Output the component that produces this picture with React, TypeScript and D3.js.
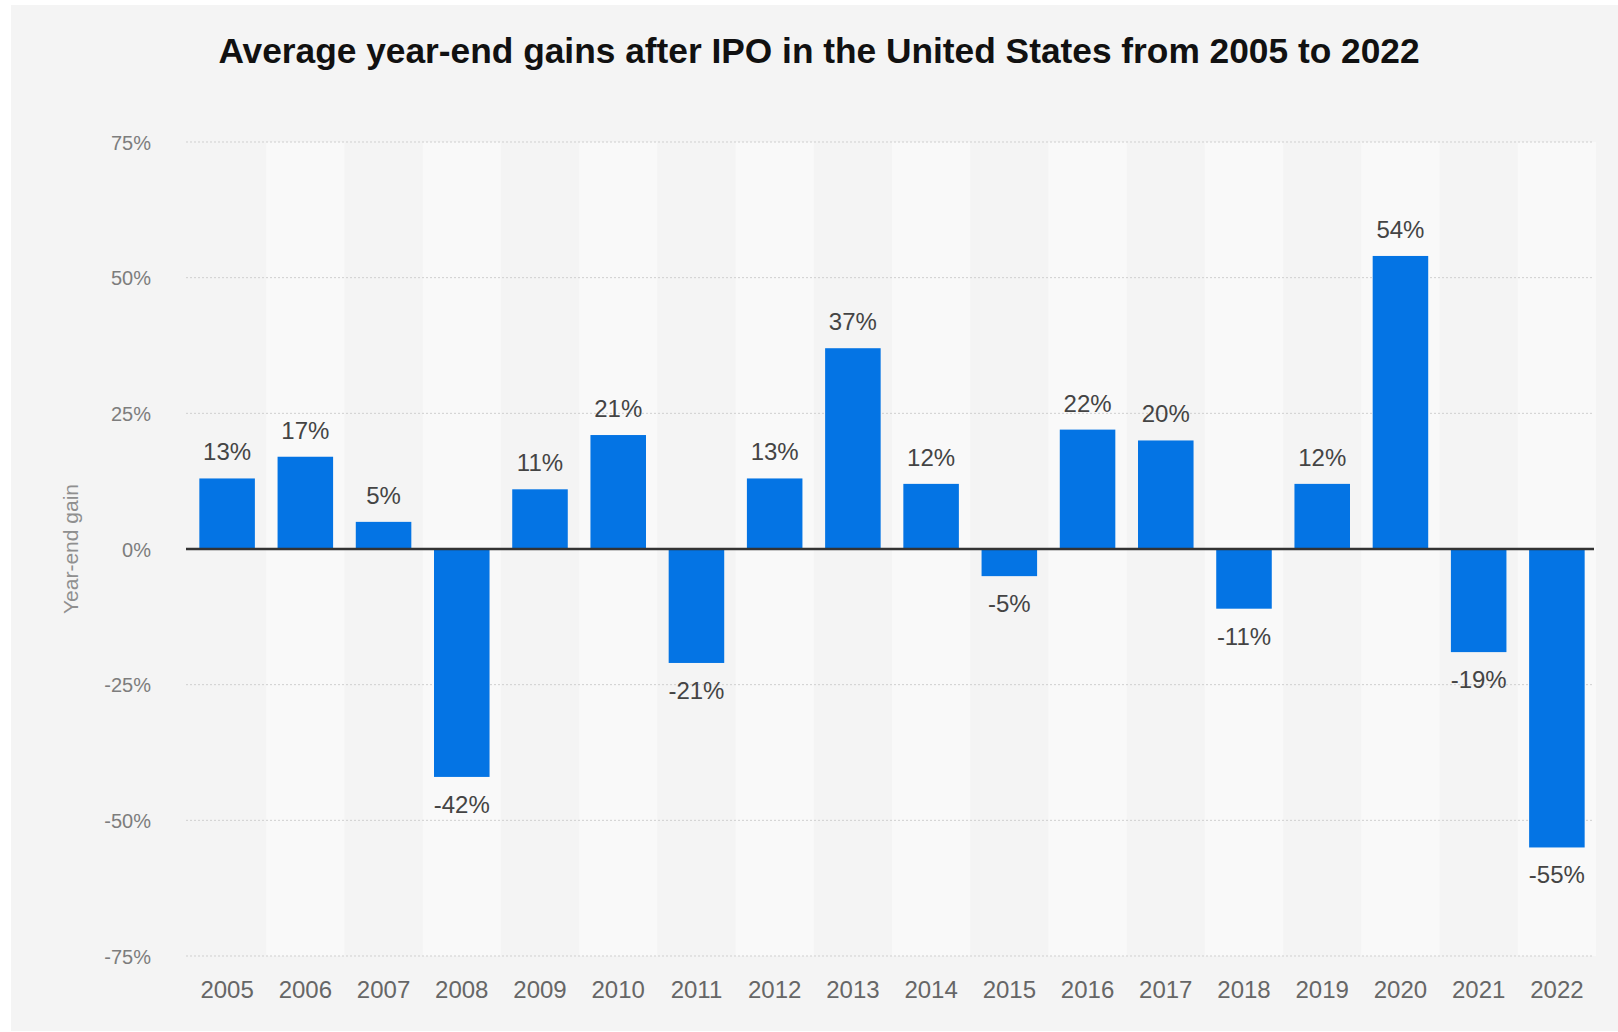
import * as d3 from "d3";
import React from "react";

const years = [
  "2005", "2006", "2007", "2008", "2009", "2010", "2011", "2012", "2013",
  "2014", "2015", "2016", "2017", "2018", "2019", "2020", "2021", "2022",
];
const gains = [13, 17, 5, -42, 11, 21, -21, 13, 37, 12, -5, 22, 20, -11, 12, 54, -19, -55];
const yTicks = [75, 50, 25, 0, -25, -50, -75];

const title = "Average year-end gains after IPO in the United States from 2005 to 2022";
const yTitle = "Year-end gain";

export default function App() {
  const width = 1618;
  const height = 1032;
  const plot = { left: 188, right: 1596, top: 142, bottom: 956 };
  const font = "'Liberation Sans', Arial, Helvetica, sans-serif";

  const x = d3.scaleBand().domain(years).range([plot.left, plot.right]).padding(0);
  const y = d3.scaleLinear().domain([-75, 75]).range([plot.bottom, plot.top]);
  const barW = x.bandwidth() * 0.71;

  return (
    <svg
      width={width}
      height={height}
      viewBox={`0 0 ${width} ${height}`}
      style={{ position: "absolute", left: 0, top: 0, background: "#ffffff" }}
    >
      <rect x={11} y={5} width={width - 11} height={1026} fill="#f4f4f4" />

      {/* alternating column stripes */}
      {years.map((yr, i) =>
        i % 2 === 1 ? (
          <rect
            key={"s" + yr}
            x={x(yr)}
            y={y(75)}
            width={x.bandwidth()}
            height={y(-75) - y(75)}
            fill="#f9f9f9"
          />
        ) : null
      )}

      {/* grid */}
      {yTicks
        .filter((t) => t !== 0)
        .map((t) => (
          <line
            key={"g" + t}
            x1={plot.left - 2}
            x2={plot.right - 2}
            y1={y(t)}
            y2={y(t)}
            stroke="#cfcfcf"
            strokeWidth={1}
            strokeDasharray="2,2"
          />
        ))}

      {/* y tick labels */}
      {yTicks.map((t) => (
        <text
          key={"yt" + t}
          x={151}
          y={y(t) + 7.5}
          textAnchor="end"
          fontFamily={font}
          fontSize={20}
          fill="#7d7d7d"
        >
          {t + "%"}
        </text>
      ))}

      <text
        transform={`translate(78,${(y(75) + y(-75)) / 2}) rotate(-90)`}
        textAnchor="middle"
        fontFamily={font}
        fontSize={21}
        fill="#8f8f8f"
      >
        {yTitle}
      </text>

      {/* bars */}
      {years.map((yr, i) => {
        const v = gains[i];
        const cx = (x(yr) ?? 0) + x.bandwidth() / 2;
        return (
          <rect
            key={"b" + yr}
            x={cx - barW / 2}
            y={v >= 0 ? y(v) : y(0)}
            width={barW}
            height={Math.abs(y(v) - y(0))}
            fill="#0474e4"
          />
        );
      })}

      {/* zero line */}
      <line
        x1={plot.left - 2}
        x2={plot.right - 2}
        y1={y(0)}
        y2={y(0)}
        stroke="#333333"
        strokeWidth={2.5}
      />

      {/* value labels */}
      {years.map((yr, i) => {
        const v = gains[i];
        const cx = (x(yr) ?? 0) + x.bandwidth() / 2;
        return (
          <text
            key={"v" + yr}
            x={cx}
            y={v >= 0 ? y(v) - 18 : y(v) + 36}
            textAnchor="middle"
            fontFamily={font}
            fontSize={24}
            fill="#444444"
          >
            {v + "%"}
          </text>
        );
      })}

      {/* x tick labels */}
      {years.map((yr) => (
        <text
          key={"x" + yr}
          x={(x(yr) ?? 0) + x.bandwidth() / 2}
          y={998}
          textAnchor="middle"
          fontFamily={font}
          fontSize={24}
          fill="#666666"
        >
          {yr}
        </text>
      ))}

      <text
        x={819}
        y={63}
        textAnchor="middle"
        fontFamily={font}
        fontSize={35.3}
        fontWeight="bold"
        fill="#111111"
      >
        {title}
      </text>
    </svg>
  );
}
